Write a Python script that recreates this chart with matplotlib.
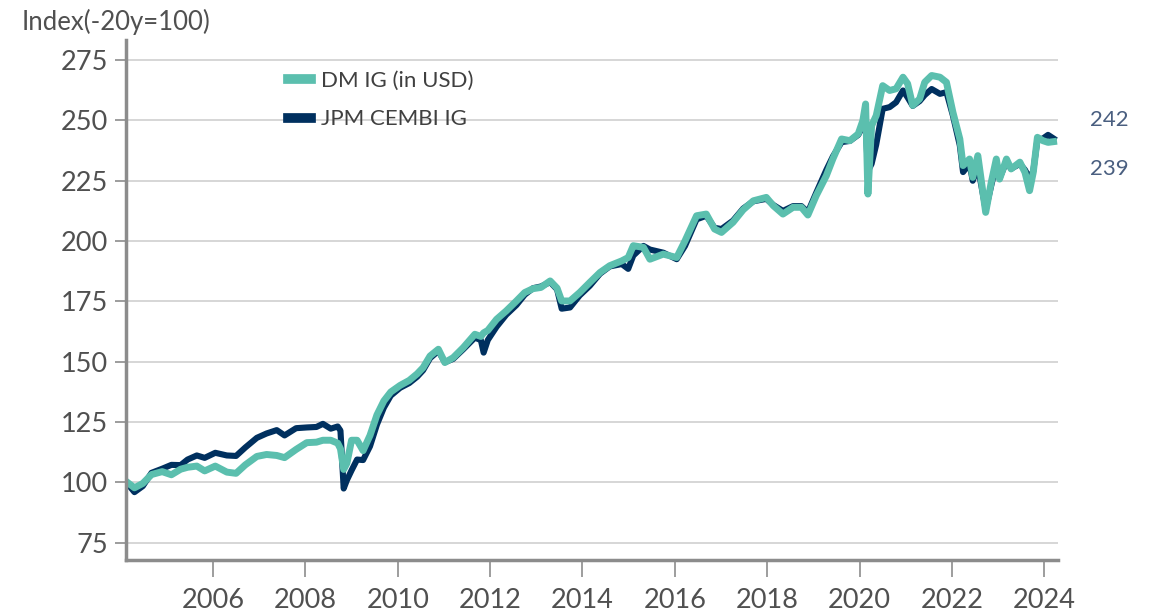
import numpy as np
import matplotlib
matplotlib.use("Agg")
from matplotlib import pyplot as plt

plt.rcParams['font.family'] = ['Lato', 'DejaVu Sans']

# dates as decimal years
dates = [2004.15, 2004.30, 2004.48, 2004.67, 2004.90, 2005.10, 2005.30, 2005.45, 2005.65, 2005.82,
         2006.05, 2006.30, 2006.50, 2006.70, 2006.95, 2007.16, 2007.38, 2007.55, 2007.80, 2008.03,
         2008.24, 2008.38, 2008.55, 2008.70, 2008.76, 2008.83, 2008.90, 2009.00, 2009.12, 2009.25,
         2009.40, 2009.55, 2009.70, 2009.85, 2010.05, 2010.25, 2010.42, 2010.55, 2010.70, 2010.88,
         2011.02, 2011.20, 2011.42, 2011.67, 2011.80, 2011.86, 2011.95, 2012.14, 2012.35, 2012.57,
         2012.75, 2012.93, 2013.10, 2013.30, 2013.45, 2013.55, 2013.73, 2013.94, 2014.16, 2014.38,
         2014.59, 2014.85, 2014.99, 2015.10, 2015.32, 2015.46, 2015.75, 2016.04, 2016.22, 2016.47,
         2016.68, 2016.86, 2017.01, 2017.26, 2017.48, 2017.70, 2017.98, 2018.13, 2018.34, 2018.56,
         2018.74, 2018.88, 2019.06, 2019.28, 2019.42, 2019.61, 2019.79, 2019.97, 2020.07, 2020.13,
         2020.18, 2020.26, 2020.36, 2020.50, 2020.65, 2020.79, 2020.94, 2021.04, 2021.15, 2021.30,
         2021.41, 2021.56, 2021.74, 2021.88, 2022.02, 2022.17, 2022.24, 2022.38, 2022.45, 2022.56,
         2022.73, 2022.85, 2022.96, 2023.03, 2023.18, 2023.28, 2023.47, 2023.58, 2023.68, 2023.76,
         2023.85, 2023.97, 2024.08, 2024.20]

dm_ig = [100.0, 97.8, 99.6, 103.3, 104.5, 103.2, 105.5, 106.3, 106.8, 104.8,
         106.8, 104.3, 103.8, 107.3, 110.8, 111.6, 111.2, 110.3, 113.7, 116.5,
         116.7, 117.5, 117.5, 116.3, 114.0, 105.4, 108.0, 117.5, 117.5, 113.2,
         119.5, 128.0, 133.8, 137.5, 140.2, 142.3, 145.0, 147.6, 152.4, 155.2,
         149.7, 151.7, 155.9, 161.4, 160.5, 162.0, 163.0, 167.6, 171.1, 175.2,
         178.7, 180.3, 180.8, 183.5, 180.5, 175.2, 175.2, 178.7, 182.9, 187.0,
         189.8, 191.8, 193.2, 198.1, 197.4, 192.5, 194.6, 193.2, 200.1, 210.5,
         211.2, 205.0, 203.6, 207.8, 213.0, 216.7, 218.1, 214.7, 211.2, 214.0,
         214.0, 210.8, 218.8, 227.1, 234.0, 242.3, 241.6, 244.4, 249.9, 256.8,
         219.5, 247.8, 252.0, 264.4, 262.4, 263.1, 267.9, 265.2, 256.2, 258.9,
         265.8, 268.6, 267.9, 265.8, 253.4, 242.3, 231.3, 234.0, 226.4, 235.4,
         211.9, 224.3, 234.0, 225.7, 234.0, 229.9, 232.7, 228.5, 220.9, 228.5,
         243.0, 241.6, 240.9, 241.2]

jpm_cembi = [99.5, 96.0, 98.5, 104.0, 105.7, 107.3, 107.2, 109.5, 111.2, 110.2,
             112.3, 111.2, 111.0, 114.5, 118.5, 120.3, 121.7, 119.5, 122.5, 122.8,
             123.0, 124.3, 122.3, 123.2, 121.5, 97.5, 101.0, 105.0, 109.5, 109.3,
             115.0, 124.0, 131.0, 136.0, 139.2, 141.2, 143.8, 146.5, 151.5, 154.5,
             149.8, 151.2, 155.2, 160.0, 159.0, 153.8, 159.0, 164.5, 169.5, 173.5,
             177.8, 180.5, 181.2, 183.0, 180.0, 172.0, 172.5, 177.5, 181.5, 186.5,
             189.5, 190.5, 188.5, 194.0, 198.0, 196.5, 195.2, 192.5, 198.0, 209.0,
             210.5, 205.5, 205.0, 208.5, 213.5, 216.5, 217.5, 215.0, 212.5, 214.5,
             214.5, 212.0, 220.0, 229.5, 235.0, 241.0, 241.5, 244.0, 247.5, 249.0,
             229.0, 232.0, 240.0, 254.8, 255.5, 257.5, 262.4, 259.5, 256.0, 258.0,
             260.5, 263.0, 261.0, 261.7, 252.0, 239.6, 228.6, 232.0, 225.0, 231.0,
             213.0, 223.0, 232.0, 226.0, 233.0, 230.0, 232.0, 229.5, 226.0, 229.0,
             242.0, 242.5, 244.0, 242.5]

end_labels = ["242", "239"]
yticks = [75, 100, 125, 150, 175, 200, 225, 250, 275]
xticks = [2006, 2008, 2010, 2012, 2014, 2016, 2018, 2020, 2022, 2024]

teal = '#5bbfae'
navy = '#00305f'
grey = '#8c8c8c'

fig = plt.figure(figsize=(11.56, 6.11), dpi=100)
ax = fig.add_axes([0.109, 0.0835, 0.806, 0.851])

ax.plot(dates, jpm_cembi, color=navy, lw=4.4, label='JPM CEMBI IG', solid_joinstyle='round')
ax.plot(dates, dm_ig, color=teal, lw=5.0, label='DM IG (in USD)', solid_joinstyle='round')

ax.set_xlim(2004.117, 2024.29)
ax.set_ylim(67.9, 283.3)
ax.set_yticks(yticks)
ax.set_xticks(xticks)
ax.grid(axis='y', color='#d0d0d0', lw=1.2)
ax.set_axisbelow(True)

for s in ['top', 'right']:
    ax.spines[s].set_visible(False)
for s in ['left', 'bottom']:
    ax.spines[s].set_color(grey)
    ax.spines[s].set_linewidth(2.5)

ax.tick_params(axis='y', length=8, width=1.2, color=grey, labelsize=19.5, labelcolor='#505050', pad=5)
ax.tick_params(axis='x', length=12, width=1.2, color=grey, labelsize=19.5, labelcolor='#505050', pad=8)

ax.text(-0.112, 1.035, 'Index(-20y=100)', transform=ax.transAxes, fontsize=18.5,
        color='#505050', ha='left', va='center')

h, l = ax.get_legend_handles_labels()
leg = ax.legend(h[::-1], l[::-1], loc='upper left', bbox_to_anchor=(0.152, 0.98),
                frameon=False, fontsize=16, handlelength=1.05, handletextpad=0.45,
                labelspacing=0.85, labelcolor='#404040')
for line in leg.get_lines():
    line.set_linewidth(7)

ax.text(1.035, 250.3, end_labels[0], transform=ax.get_yaxis_transform(), fontsize=16,
        color='#4a5f80', ha='left', va='center')
ax.text(1.035, 229.8, end_labels[1], transform=ax.get_yaxis_transform(), fontsize=16,
        color='#4a5f80', ha='left', va='center')

fig.savefig('out.png', dpi=100)
